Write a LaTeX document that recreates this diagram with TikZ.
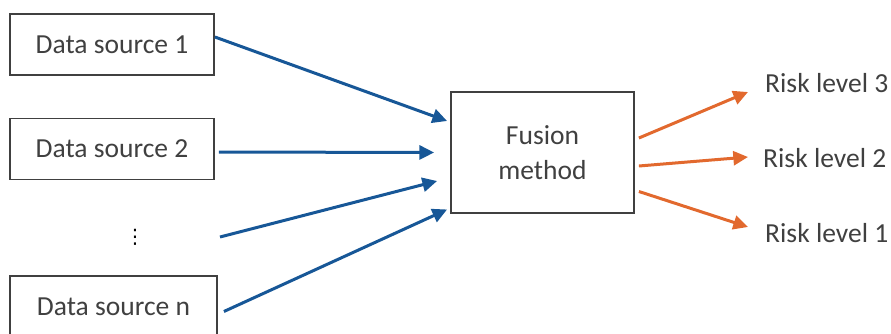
\documentclass[tikz,border=0pt]{standalone}
\usepackage{fontspec}
\setmainfont{Carlito}
\newfontfamily\symfont{DejaVu Sans}
\usetikzlibrary{positioning,arrows.meta}

\definecolor{boxgray}{HTML}{404040}
\definecolor{inblue}{HTML}{175797}
\definecolor{outorange}{HTML}{E2692E}

\tikzset{
	sourcebox/.style={draw=boxgray, line width=0.55mm, minimum height=18.3mm,
		text=boxgray, inner sep=0pt},
	blue arrow/.style={draw=inblue, line width=0.9mm,
		-{Triangle[length=4.4mm,width=4.2mm]}},
	orange arrow/.style={draw=outorange, line width=0.9mm,
		-{Triangle[length=4.4mm,width=4.2mm]}},
	risklabel/.style={anchor=west, inner sep=0pt, text=boxgray}
}

\begin{document}
\begin{tikzpicture}[x=0.3mm, y=-0.3mm, font=\fontsize{23.5}{30}\selectfont]

\useasboundingbox (0,0) rectangle (891,334);

% Data sources
\node [sourcebox, minimum width=61.2mm] (ds1) at (112, 44.5) {Data source 1};
\node [sourcebox, minimum width=61.2mm] (ds2) at (112, 149) {Data source 2};
\node [text=black, inner sep=0pt, font=\symfont\fontsize{17}{20}\selectfont] (dots) at (135, 237) {⋮};
\node [sourcebox, minimum width=62.1mm] (dsn) at (113.5, 306.5) {Data source n};

% Fusion method
\node [sourcebox,
	minimum width=54.9mm,
	minimum height=36.3mm,
	align=center
] (fusion) at (542.5, 152.5) {
Fusion\\
method
};

% Risk levels
\node [risklabel] (risk3) at (765, 83) {Risk level 3};
\node [risklabel] (risk2) at (763, 158) {Risk level 2};
\node [risklabel] (risk1) at (765, 233) {Risk level 1};

% Inputs
\draw[blue arrow] ([yshift=2.25mm]ds1.east) -- ([xshift=-0.9mm, yshift=9.45mm]fusion.west);
\draw[blue arrow] ([xshift=1.2mm, yshift=-0.9mm]ds2.east) -- ([xshift=-4.8mm]fusion.west);
\draw[blue arrow] ([xshift=25.5mm]dots.center) -- ([xshift=-3.9mm, yshift=-8.55mm]fusion.west);
\draw[blue arrow] ([xshift=1.8mm, yshift=-1.5mm]dsn.east) -- ([xshift=-0.9mm, yshift=-17.1mm]fusion.west);

% Outputs
\draw[orange arrow] ([xshift=1.2mm, yshift=4.35mm]fusion.east) -- ([xshift=-5.1mm, yshift=-2.7mm]risk3.west);
\draw[orange arrow] ([xshift=1.2mm, yshift=-4.05mm]fusion.east) -- ([xshift=-4.5mm, yshift=0.3mm]risk2.west);
\draw[orange arrow] ([xshift=1.2mm, yshift=-11.7mm]fusion.east) -- ([xshift=-5.1mm, yshift=1.8mm]risk1.west);

\end{tikzpicture}
\end{document}
